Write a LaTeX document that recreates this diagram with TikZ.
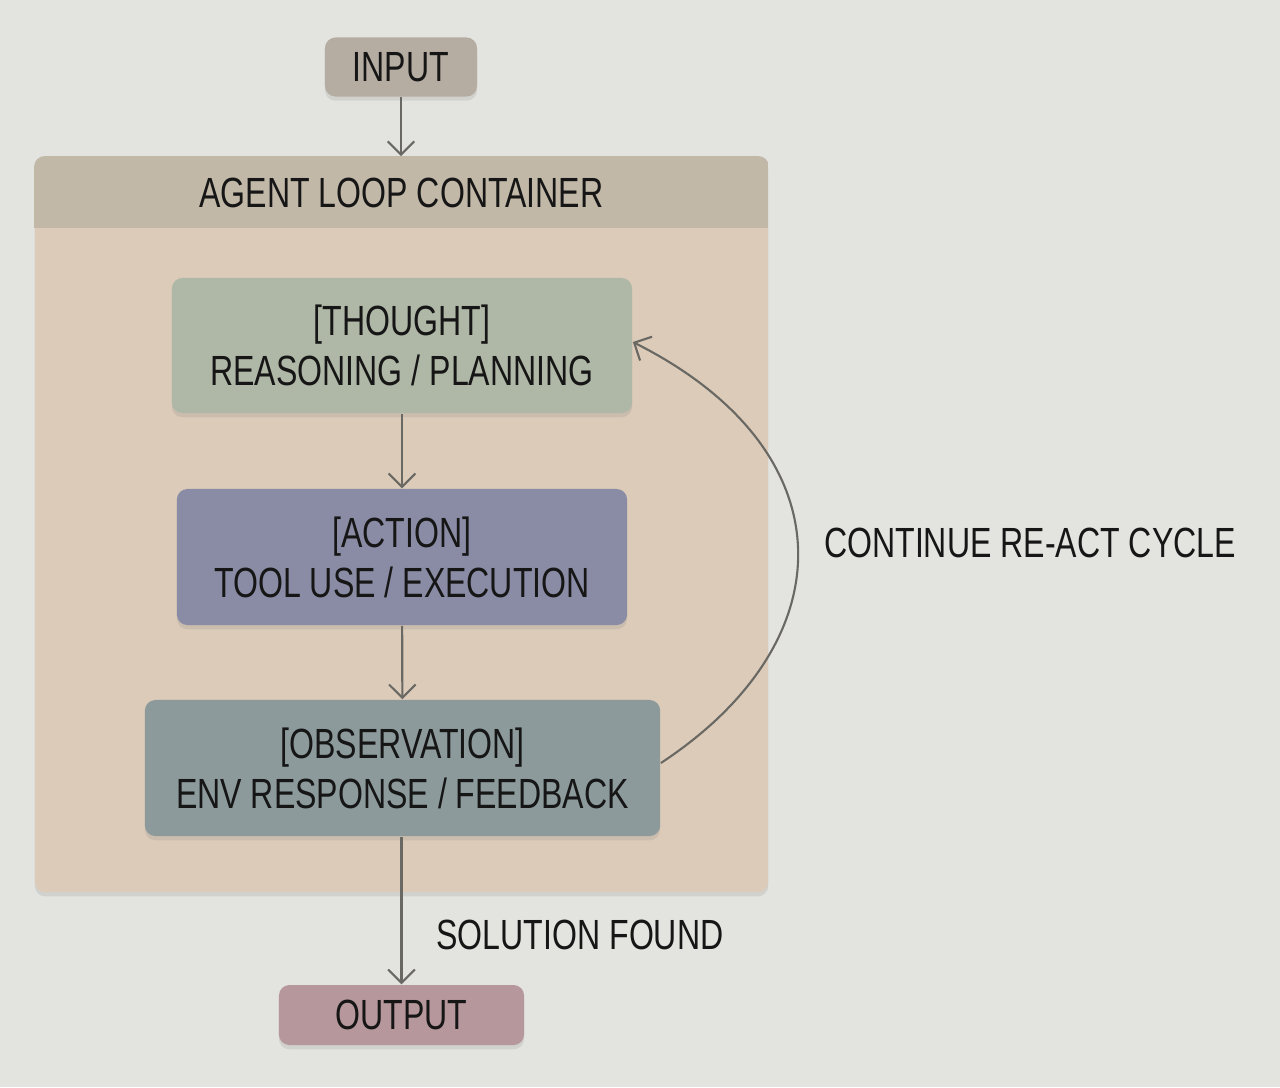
\documentclass[tikz,border=0pt]{standalone}
\usepackage{fontspec}
\setmainfont[FakeStretch=0.76]{Liberation Sans}
\usetikzlibrary{arrows.meta}
\usetikzlibrary{shadows}
\tikzset{>={Straight Barb[scale=1.4]}}
\definecolor{bgcol}{HTML}{E3E3DF}
\definecolor{inpcol}{HTML}{B5ADA2}
\definecolor{headcol}{HTML}{C2B8A8}
\definecolor{loopcol}{HTML}{DCCBB9}
\definecolor{thcol}{HTML}{AFB7A6}
\definecolor{accol}{HTML}{898CA4}
\definecolor{obcol}{HTML}{8C9A9C}
\definecolor{outcol}{HTML}{B6979B}
\definecolor{linecol}{HTML}{696863}
\definecolor{txtcol}{HTML}{161616}
\tikzset{
  box/.style={rounded corners=3pt, inner sep=0pt, align=center, text=txtcol,
    drop shadow={opacity=0.18, shadow xshift=0pt, shadow yshift=-1.2pt}},
  lbl/.style={text=txtcol, inner sep=0pt},
  link/.style={->, linecol, line width=0.6pt}
}
\begin{document}
\begin{tikzpicture}[x=0.01cm, y=-0.01cm, font=\fontsize{12}{14.2}\selectfont]
      \useasboundingbox (0, 0) rectangle (1280, 1087);
      \fill[bgcol] (0, 0) rectangle (1280, 1087);
      \node[box, fill=loopcol, minimum width=7.33cm, minimum height=7.35cm] (loop) at (401.5, 524.5) {};
      \begin{scope}
        \clip[rounded corners=3pt] (loop.north west) rectangle (loop.south east);
        \fill[headcol] (loop.north west) rectangle (768, 228);
      \end{scope}
      \node[lbl] (head) at (401.5, 192.5) {AGENT LOOP CONTAINER};
      \node[box, fill=inpcol, minimum width=1.52cm, minimum height=0.59cm] (input) at (401, 67) {INPUT};
      \node[box, fill=thcol, minimum width=4.6cm, minimum height=1.35cm] (thought) at (402, 345.5) {[THOUGHT]\\REASONING / PLANNING};
      \node[box, fill=accol, minimum width=4.5cm, minimum height=1.36cm] (action) at (402, 557) {[ACTION]\\TOOL USE / EXECUTION};
      \node[box, fill=obcol, minimum width=5.15cm, minimum height=1.36cm] (obs) at (402.5, 768) {[OBSERVATION]\\ENV RESPONSE / FEEDBACK};
      \node[box, fill=outcol, minimum width=2.45cm, minimum height=0.6cm] (output) at (401.5, 1015) {OUTPUT};
      \draw[link] (input) -- (loop.north -| input);
      \draw[link] (thought) -- (action);
      \draw[link] (action) -- (obs);
      \draw[link] (obs.south -| output) -- (output);
      \draw[link] (obs.east |- 0, 763) .. controls (848, 640) and (848, 450) .. (thought.east |- 0, 342);
      \node[lbl] (cycle) at (1030, 543) {CONTINUE RE-ACT CYCLE};
      \node[lbl] (found) at (580, 935) {SOLUTION FOUND};
    \end{tikzpicture}
\end{document}
